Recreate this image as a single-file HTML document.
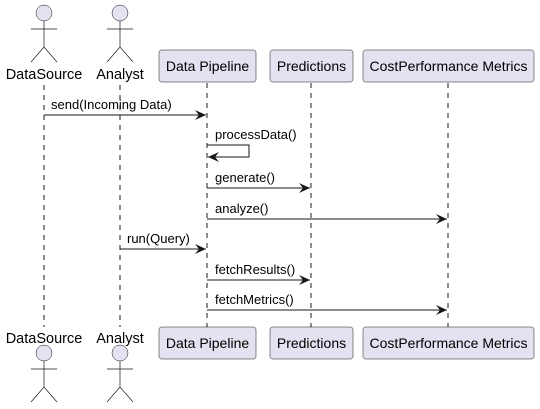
<!DOCTYPE html>
<html><head><style>body{margin:0;background:#fff}svg{display:block}text{font-family:"Liberation Sans",sans-serif;font-size:14px;fill:#000}text.a{font-size:14.5px}text.m{font-size:13px}</style></head><body>
<svg width="540" height="409" viewBox="0 0 540 409" xmlns="http://www.w3.org/2000/svg">
<defs><marker id="a" markerWidth="12" markerHeight="10" refX="11" refY="5" orient="auto" markerUnits="userSpaceOnUse"><path d="M0,0 L11,5 L0,10 L4,5 Z" fill="#181818"/></marker></defs>
<g stroke="#181818" stroke-width="1" stroke-dasharray="5,5">
<line x1="44" y1="85" x2="44" y2="327"/><line x1="120" y1="85" x2="120" y2="327"/>
<line x1="207" y1="83" x2="207" y2="327"/><line x1="311" y1="83" x2="311" y2="327"/><line x1="448" y1="83" x2="448" y2="327"/>
</g>
<g fill="#E2E2F0" stroke="#181818" stroke-width="0.5">
<rect x="159" y="50" width="97" height="32" rx="2.5"/><rect x="270" y="50" width="83" height="32" rx="2.5"/><rect x="363" y="50" width="171" height="32" rx="2.5"/>
<rect x="159" y="327" width="97" height="32" rx="2.5"/><rect x="270" y="327" width="83" height="32" rx="2.5"/><rect x="363" y="327" width="171" height="32" rx="2.5"/>
</g>
<g text-anchor="middle">
<text x="207.5" y="71">Data Pipeline</text><text x="311.5" y="71">Predictions</text><text x="448.5" y="71">CostPerformance Metrics</text>
<text x="207.5" y="348">Data Pipeline</text><text x="311.5" y="348">Predictions</text><text x="448.5" y="348">CostPerformance Metrics</text>
<text class="a" x="44" y="79">DataSource</text><text class="a" x="120" y="79">Analyst</text>
<text class="a" x="44" y="343">DataSource</text><text class="a" x="120" y="343">Analyst</text>
</g>
<g fill="#E2E2F0" stroke="#181818" stroke-width="0.5">
<circle cx="44" cy="13" r="8"/><circle cx="120" cy="13" r="8"/><circle cx="44" cy="353" r="8"/><circle cx="120" cy="353" r="8"/>
</g>
<g stroke="#181818" stroke-width="0.7" fill="none">
<path d="M44 21V47M31 29H57M31 62L44 47L57 62"/><path d="M120 21V47M107 29H133M107 62L120 47L133 62"/>
<path d="M44 361V387M31 369H57M31 402L44 387L57 402"/><path d="M120 361V387M107 369H133M107 402L120 387L133 402"/>
</g>
<g stroke="#181818" stroke-width="1" fill="none" marker-end="url(#a)">
<line x1="44" y1="115" x2="206" y2="115"/>
<path d="M207 145H249V157H208"/>
<line x1="207" y1="188" x2="310" y2="188"/>
<line x1="207" y1="219" x2="447" y2="219"/>
<line x1="120" y1="249" x2="206" y2="249"/>
<line x1="207" y1="280" x2="310" y2="280"/>
<line x1="207" y1="310" x2="447" y2="310"/>
</g>
<text class="m" x="51" y="109">send(Incoming Data)</text>
<text class="m" x="215" y="139">processData()</text>
<text class="m" x="215" y="182">generate()</text>
<text class="m" x="215" y="213">analyze()</text>
<text class="m" x="127" y="243">run(Query)</text>
<text class="m" x="215" y="274">fetchResults()</text>
<text class="m" x="215" y="304">fetchMetrics()</text>
</svg>
</body></html>
